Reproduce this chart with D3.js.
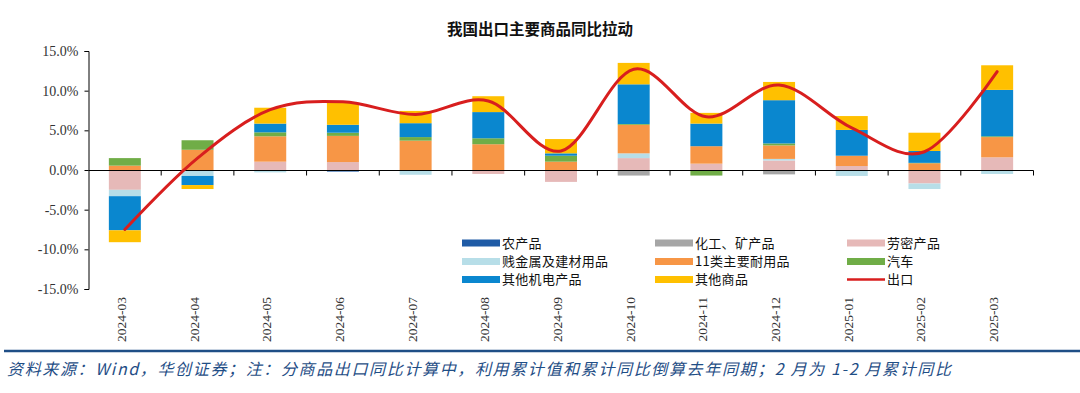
<!DOCTYPE html>
<html><head><meta charset="utf-8">
<script src="https://cdn.jsdelivr.net/npm/d3@7"></script>
<style>html,body{margin:0;padding:0;background:#fff;}svg{display:block;}</style>
</head><body>
<svg id="chart" width="1080" height="393"></svg>
<script>
const categories = ["2024-03","2024-04","2024-05","2024-06","2024-07","2024-08","2024-09","2024-10","2024-11","2024-12","2025-01","2025-02","2025-03"];
const seriesNames = ["农产品","化工、矿产品","劳密产品","贱金属及建材用品","11类主要耐用品","汽车","其他机电产品","其他商品"];
const agri      = [0, 0, 0, -0.2, 0, 0, 0, 0, 0, 0, 0, 0, 0];
const chem      = [0, 0, 0, 0, 0, 0, 0, -0.7, 0, -0.55, 0, 0, 0];
const labor     = [-2.5, 0, 1.05, 1.0, 0, -0.5, -1.5, 1.5, 0.8, 1.2, 0.5, -1.7, 1.6];
const metal     = [-0.8, -0.75, -0.3, 0, -0.6, 0, 0, 0.6, 0, 0.2, -0.75, -0.7, -0.5];
const durable   = [0.55, 2.55, 3.2, 3.3, 3.7, 3.25, 1.05, 3.6, 2.2, 1.7, 1.3, 0.85, 2.55];
const auto      = [0.95, 1.2, 0.5, 0.4, 0.45, 0.75, 0.75, 0.1, -0.7, 0.25, 0, 0.05, 0.1];
const mechElec  = [-4.3, -1.15, 1.1, 1.0, 1.75, 3.3, 0.3, 5.0, 2.85, 5.45, 3.25, 1.5, 5.85];
const otherGoods= [-1.5, -0.5, 2.0, 2.75, 1.55, 2.0, 1.8, 2.7, 1.35, 2.3, 1.75, 2.3, 3.1];
const exportYoY = [-7.5, 1.5, 7.6, 8.6, 7.0, 8.7, 2.4, 12.7, 6.7, 10.7, 5.3, 2.3, 12.4];
const yTicks = [15, 10, 5, 0, -5, -10, -15];
const colors = ["#1F5BA6","#A6A6A6","#E6B9B8","#B7DEE8","#F79646","#70AD47","#0A87CF","#FFC000"];
const lineColor = "#D81E1E";
const seriesValues = [agri, chem, labor, metal, durable, auto, mechElec, otherGoods];

const svg = d3.select("#chart");
const x = d3.scaleBand().domain(categories).range([88.5, 1033.5]).padding(0);
const y = d3.scaleLinear().domain([-15, 15]).range([289, 51]);
const barW = x.bandwidth() * 0.44;

// title
svg.append("text").attr("x", 540).attr("y", 35).attr("text-anchor", "middle")
  .attr("font-family", "'Noto Sans CJK SC', sans-serif").attr("font-weight", "bold")
  .attr("font-size", 15.5).attr("fill", "#111").text("我国出口主要商品同比拉动");

// stacked data
const table = categories.map((c, i) => {
  const row = {cat: c};
  seriesNames.forEach((s, k) => row[s] = seriesValues[k][i]);
  return row;
});
const stack = d3.stack().keys(seriesNames).offset(d3.stackOffsetDiverging)(table);

svg.append("g").selectAll("g").data(stack).join("g")
  .attr("fill", (d, k) => colors[k])
  .selectAll("rect").data(d => d).join("rect")
  .attr("x", d => x(d.data.cat) + x.bandwidth() / 2 - barW / 2)
  .attr("width", barW)
  .attr("y", d => y(Math.max(d[0], d[1])))
  .attr("height", d => Math.abs(y(d[0]) - y(d[1])));

// y axis
const yAxis = svg.append("g").attr("transform", "translate(88.5,0)")
  .call(d3.axisLeft(y).tickValues(yTicks).tickSize(4).tickPadding(6).tickFormat(d => d.toFixed(1) + "%"));
yAxis.select(".domain").attr("stroke", "#000");
yAxis.selectAll(".tick line").attr("stroke", "#000");
yAxis.selectAll("text").attr("font-family", "'Liberation Serif', serif").attr("font-size", 14).attr("fill", "#333");

// x axis at zero
const xAxisG = svg.append("g").attr("transform", `translate(0,${Math.round(y(0)) + 0.5})`);
xAxisG.append("line").attr("x1", x.range()[0]).attr("x2", x.range()[1]).attr("stroke", "#000");
const bounds = categories.map(c => x(c) + x.bandwidth());
xAxisG.selectAll("line.tk").data(bounds).join("line").attr("class", "tk")
  .attr("x1", d => d).attr("x2", d => d).attr("y1", 0).attr("y2", 5).attr("stroke", "#000");

// x labels
svg.append("g").selectAll("text").data(categories).join("text")
  .attr("transform", d => `translate(${x(d) + x.bandwidth() / 2 + 1},297) rotate(-90)`)
  .attr("text-anchor", "end").attr("font-family", "'Liberation Serif', serif")
  .attr("font-size", 13.5).attr("fill", "#333").text(d => d);

// line
const line = d3.line().x((d, i) => x(categories[i]) + x.bandwidth() / 2).y(d => y(d))
  .curve(d3.curveCardinal.tension(0));
svg.append("path").datum(exportYoY).attr("d", line).attr("fill", "none")
  .attr("stroke", lineColor).attr("stroke-width", 3).attr("stroke-linecap", "round");

// legend
const legendItems = [
  {name: "农产品", col: 0, row: 0, k: 0},
  {name: "化工、矿产品", col: 1, row: 0, k: 1},
  {name: "劳密产品", col: 2, row: 0, k: 2},
  {name: "贱金属及建材用品", col: 0, row: 1, k: 3},
  {name: "11类主要耐用品", col: 1, row: 1, k: 4},
  {name: "汽车", col: 2, row: 1, k: 5},
  {name: "其他机电产品", col: 0, row: 2, k: 6},
  {name: "其他商品", col: 1, row: 2, k: 7},
  {name: "出口", col: 2, row: 2, k: -1}
];
const colX = [462, 655, 847];
const rowY = [243, 261.5, 279.5];
const lg = svg.append("g").selectAll("g").data(legendItems).join("g")
  .attr("transform", d => `translate(${colX[d.col]},${rowY[d.row]})`);
lg.filter(d => d.k >= 0).append("rect").attr("x", 0).attr("y", -3.5).attr("width", 38).attr("height", 7)
  .attr("fill", d => colors[d.k]);
lg.filter(d => d.k < 0).append("line").attr("x1", 0).attr("x2", 38).attr("y1", 0).attr("y2", 0)
  .attr("stroke", lineColor).attr("stroke-width", 2.5);
lg.append("text").attr("x", 40).attr("y", 4.5).attr("font-family", "'Noto Sans CJK SC', sans-serif")
  .attr("font-size", 13).attr("letter-spacing", 0.3).attr("fill", "#111").text(d => d.name);

// bottom rule and footnote
svg.append("line").attr("x1", 4).attr("x2", 1080).attr("y1", 351).attr("y2", 351)
  .attr("stroke", "#1F4E86").attr("stroke-width", 2.5);
svg.append("text").attr("x", 7).attr("y", 375)
  .attr("font-family", "'Noto Sans CJK SC', sans-serif").attr("font-style", "italic")
  .attr("font-size", 16).attr("fill", "#1F4E86")
  .attr("textLength", 944).attr("lengthAdjust", "spacing")
  .text("资料来源：Wind，华创证券；注：分商品出口同比计算中，利用累计值和累计同比倒算去年同期；2 月为 1-2 月累计同比");
</script>
</body></html>
